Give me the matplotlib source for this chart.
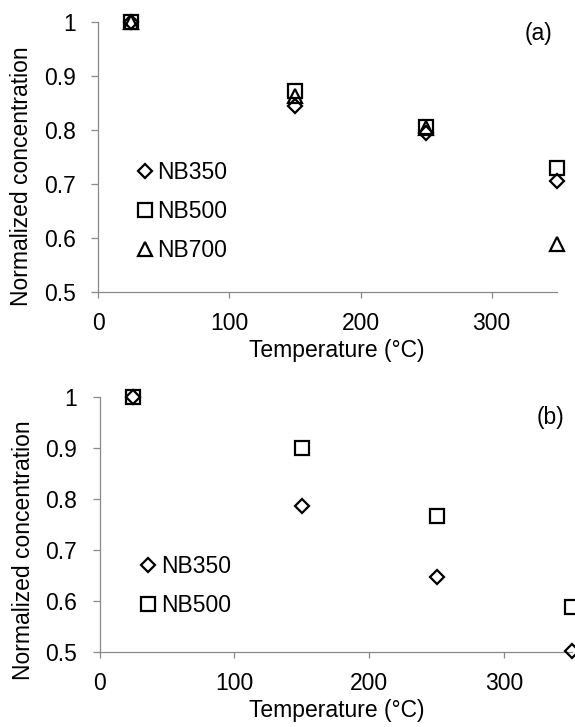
import matplotlib
matplotlib.use("Agg")
import matplotlib.pyplot as plt

plt.rcParams['font.family'] = ['Liberation Sans', 'DejaVu Sans']

# temperatures (deg C)
temps = [25, 150, 250, 350]

# panel (a)
nb350_a = [1.0, 0.845, 0.794, 0.706]
nb500_a = [1.0, 0.872, 0.805, 0.729]
nb700_a = [1.0, 0.862, 0.803, 0.590]

# panel (b)
nb350_b = [1.0, 0.786, 0.647, 0.502]
nb500_b = [1.0, 0.899, 0.766, 0.588]

x_ticks = [0, 100, 200, 300]
y_ticks = [0.5, 0.6, 0.7, 0.8, 0.9, 1.0]
y_tick_labels = ["0.5", "0.6", "0.7", "0.8", "0.9", "1"]

FS = 16.5
AXIS_GREY = "#898989"

W, H = 575, 727
fig = plt.figure(figsize=(W / 100, H / 100), dpi=100)


def px_axes(left, right, top, bottom):
    return fig.add_axes([left / W, 1 - bottom / H, (right - left) / W,
                         (bottom - top) / H])


def style(ax):
    ax.set_xlim(0, 350)
    ax.set_ylim(0.5, 1.0)
    ax.set_xticks(x_ticks)
    ax.set_xticklabels([str(t) for t in x_ticks])
    ax.set_yticks(y_ticks)
    ax.set_yticklabels(y_tick_labels)
    for s in ("top", "right"):
        ax.spines[s].set_visible(False)
    for s in ("left", "bottom"):
        ax.spines[s].set_color(AXIS_GREY)
        ax.spines[s].set_linewidth(0.9)
    ax.tick_params(axis="y", direction="out", length=5, width=0.9,
                   color=AXIS_GREY, labelsize=FS, pad=11)
    ax.tick_params(axis="x", direction="out", length=4.5, width=0.9,
                   color=AXIS_GREY, labelsize=FS, pad=9.5)
    ax.patch.set_visible(False)


mk = dict(ls="none", mfc="none", mec="black", mew=1.6, clip_on=False,
          zorder=3)
leg_kw = dict(loc="center left", frameon=False, fontsize=FS,
              handlelength=0.8, handletextpad=0.15, labelspacing=0.7,
              borderpad=0, borderaxespad=0, numpoints=1)

# ---- panel (a)
ax1 = px_axes(98.3, 557.2, 21.7, 292.3)
style(ax1)
ax1.plot(temps, nb350_a, marker="D", ms=7, label="NB350", **mk)
ax1.plot(temps, nb500_a, marker="s", ms=10, label="NB500", **mk)
ax1.plot(temps, nb700_a, marker="^", ms=10, label="NB700", **mk)
ax1.legend(bbox_to_anchor=(0.0817, 0.2986), **leg_kw)
ax1.text(0.960, 0.958, "(a)", transform=ax1.transAxes, fontsize=FS,
         ha="center", va="center")

# ---- panel (b)
ax2 = px_axes(99.5, 571.8, 396.7, 652.3)
style(ax2)
ax2.plot(temps, nb350_b, marker="D", ms=7, label="NB350", **mk)
ax2.plot(temps, nb500_b, marker="s", ms=10, label="NB500", **mk)
ax2.legend(bbox_to_anchor=(0.0843, 0.259), **leg_kw)
ax2.text(0.954, 0.917, "(b)", transform=ax2.transAxes, fontsize=FS,
         ha="center", va="center")

# axis titles placed in figure pixels
for (xl, yl), (yx, yy) in [((337, 350), (22, 176)),
                           ((337, 710), (24, 550))]:
    fig.text(xl / W, 1 - yl / H, "Temperature (\u00b0C)", fontsize=FS,
             ha="center", va="center")
    fig.text(yx / W, 1 - yy / H, "Normalized concentration", fontsize=FS,
             ha="center", va="center", rotation=90)

fig.savefig("out.png", dpi=100)
